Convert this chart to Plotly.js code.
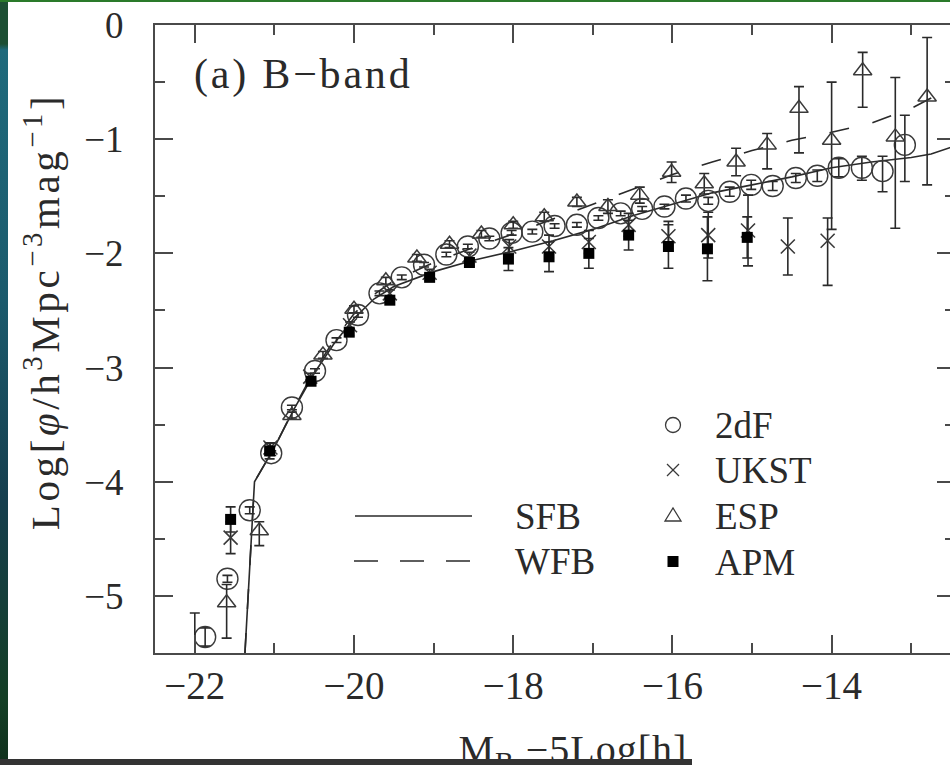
<!DOCTYPE html>
<html><head><meta charset="utf-8">
<script src="https://cdn.plot.ly/plotly-3.0.1.min.js"></script>
<style>
html,body{margin:0;padding:0;width:950px;height:765px;overflow:hidden;background:#fff;}
#chart{position:absolute;left:0;top:0;width:960px;height:765px;}
#lstrip{position:absolute;left:0;top:0;width:8px;height:765px;z-index:5;
 background:linear-gradient(to bottom,#1d4f33 0px,#1d4f33 44px,#1f6a7c 50px,#1b5a6c 300px,#163f4e 500px,#143f25 700px,#10301c 765px);}
#tline{position:absolute;left:0;top:0;width:950px;height:2px;background:#2a7a2a;z-index:5;}
#bbar{position:absolute;left:0;top:759px;width:692px;height:6px;background:#333;z-index:5;}
.annotation[data-index="0"] text{letter-spacing:2.8px;}
.annotation[data-index="7"] text{letter-spacing:3.6px;}
.annotation[data-index="8"] text{letter-spacing:1px;}
</style></head>
<body>
<div id="chart"></div><div id="lstrip"></div><div id="tline"></div><div id="bbar"></div>
<script>
// ---- data ----
const sfbX = [-21.37,-21.25,-21.0,-20.75,-20.5,-20.25,-20.0,-19.75,-19.5,-19.0,-18.5,-18.0,-17.5,-17.0,-16.5,-16.0,-15.5,-15.0,-14.5,-14.0,-13.5,-13.0,-12.75,-12.45];
const sfbY = [-5.5,-4.0,-3.70,-3.36,-3.05,-2.79,-2.57,-2.40,-2.29,-2.16,-2.06,-1.98,-1.89,-1.79,-1.67,-1.57,-1.47,-1.40,-1.33,-1.25,-1.20,-1.16,-1.13,-1.06];
const wfbX = [-21.37,-21.25,-21.0,-20.75,-20.5,-20.25,-20.0,-19.75,-19.5,-19.0,-18.5,-18.0,-17.5,-17.0,-16.5,-16.0,-15.5,-15.0,-14.5,-14.0,-13.5,-13.0,-12.75,-12.45];
const wfbY = [-5.5,-4.0,-3.70,-3.35,-3.03,-2.76,-2.53,-2.36,-2.24,-2.08,-1.95,-1.83,-1.70,-1.57,-1.44,-1.31,-1.20,-1.10,-1.01,-0.94,-0.86,-0.73,-0.64,-0.50];

const dfX = [-21.87,-21.59,-21.31,-21.04,-20.78,-20.49,-20.22,-19.95,-19.68,-19.40,-19.12,-18.84,-18.57,-18.30,-18.02,-17.76,-17.48,-17.20,-16.93,-16.65,-16.38,-16.10,-15.83,-15.55,-15.28,-15.01,-14.74,-14.45,-14.18,-13.91,-13.62,-13.36,-13.08];
const dfY = [-5.36,-4.85,-4.25,-3.75,-3.35,-3.03,-2.76,-2.54,-2.35,-2.21,-2.10,-2.01,-1.94,-1.87,-1.82,-1.81,-1.76,-1.75,-1.69,-1.65,-1.61,-1.59,-1.52,-1.54,-1.46,-1.40,-1.41,-1.34,-1.32,-1.25,-1.25,-1.28,-1.05];
const dfErrUp = [0.08,0.03,0.03,0.02,0.02,0.02,0.02,0.02,0.02,0.02,0.02,0.02,0.02,0.02,0.02,0.02,0.02,0.02,0.02,0.02,0.02,0.02,0.03,0.03,0.04,0.04,0.04,0.04,0.05,0.08,0.10,0.13,0.26];
const dfErrDn = [0.08,0.03,0.03,0.02,0.02,0.02,0.02,0.02,0.02,0.02,0.02,0.02,0.02,0.02,0.02,0.02,0.02,0.02,0.02,0.02,0.02,0.02,0.03,0.03,0.04,0.04,0.04,0.04,0.05,0.08,0.11,0.18,0.32];

const ukX = [-21.55,-21.05,-20.55,-20.05,-19.55,-19.05,-18.55,-18.05,-17.55,-17.05,-16.55,-16.05,-15.55,-15.05,-14.55,-14.05];
const ukY = [-4.49,-3.70,-3.08,-2.63,-2.35,-2.17,-2.02,-1.94,-1.94,-1.90,-1.75,-1.85,-1.84,-1.80,-1.94,-1.89];
const ukErrUp = [0.14,0.04,0.03,0.03,0.03,0.03,0.03,0.06,0.10,0.10,0.10,0.13,0.20,0.31,0.25,0.20];
const ukErrDn = [0.14,0.04,0.03,0.03,0.03,0.03,0.03,0.06,0.10,0.10,0.10,0.13,0.20,0.31,0.25,0.39];

const espX = [-22.0,-21.60,-21.19,-20.78,-20.39,-20.0,-19.60,-19.21,-18.80,-18.40,-18.0,-17.61,-17.20,-16.81,-16.41,-16.01,-15.60,-15.20,-14.81,-14.41,-14.0,-13.61,-13.20,-12.80];
const espY = [-5.75,-5.06,-4.43,-3.42,-2.89,-2.49,-2.24,-2.04,-1.92,-1.83,-1.75,-1.68,-1.55,-1.59,-1.49,-1.29,-1.39,-1.20,-1.05,-0.73,-1.01,-0.40,-0.98,-0.63];
const espErrUp = [0.60,0.16,0.08,0.03,0.03,0.03,0.03,0.03,0.03,0.03,0.03,0.04,0.04,0.06,0.07,0.09,0.09,0.12,0.10,0.19,0.51,0.16,0.52,0.52];
const espErrDn = [0.30,0.31,0.13,0.03,0.03,0.03,0.03,0.03,0.03,0.03,0.03,0.04,0.04,0.06,0.07,0.09,0.09,0.12,0.21,0.39,0.78,0.32,0.80,0.77];

const apmX = [-21.55,-21.06,-20.54,-20.06,-19.55,-19.05,-18.55,-18.06,-17.55,-17.05,-16.55,-16.05,-15.56,-15.06];
const apmY = [-4.33,-3.73,-3.12,-2.69,-2.41,-2.21,-2.08,-2.05,-2.03,-2.00,-1.84,-1.94,-1.96,-1.86];
const apmErr = [0.11,0.07,0.03,0.03,0.03,0.03,0.03,0.10,0.13,0.13,0.13,0.19,0.28,0.18];

const xTickVals = [-22,-20,-18,-16,-14];
const xTickText = ['\u221222','\u221220','\u221218','\u221216','\u221214'];
const yTickVals = [0,-1,-2,-3,-4,-5];
const yTickText = ['0','\u22121','\u22122','\u22123','\u22124','\u22125'];

const lineNames = ['SFB','WFB'];
const pointNames = ['2dF','UKST','ESP','APM'];

// ---- drawing ----
const FONT = 'Liberation Serif, Times New Roman, serif';
const INK = '#2a2a2a';
const MK = '#3a3a3a';
function eb(up, dn){ return {type:'data', symmetric:false, array:up, arrayminus:dn, color:INK, thickness:1.6, width:5}; }

const traces = [
 {x:sfbX, y:sfbY, mode:'lines', name:lineNames[0], line:{color:INK, width:1.6}, showlegend:false},
 {x:wfbX, y:wfbY, mode:'lines', name:lineNames[1], line:{color:INK, width:1.6, dash:'20px,24px'}, showlegend:false},
 {x:dfX, y:dfY, mode:'markers', name:pointNames[0], marker:{symbol:'circle-open', size:21, color:MK, line:{width:1.4, color:MK}}, error_y:eb(dfErrUp, dfErrDn), showlegend:false},
 {x:ukX, y:ukY, mode:'markers', name:pointNames[1], marker:{symbol:'x-thin-open', size:14, color:MK, line:{width:1.6, color:MK}}, error_y:eb(ukErrUp, ukErrDn), showlegend:false},
 {x:espX, y:espY, mode:'markers', name:pointNames[2], marker:{symbol:'triangle-up-open', size:16, color:MK, line:{width:1.5, color:MK}}, error_y:eb(espErrUp, espErrDn), showlegend:false},
 {x:apmX, y:apmY, mode:'markers', name:pointNames[3], marker:{symbol:'square', size:11, color:'#000', line:{width:0}}, error_y:eb(apmErr, apmErr), showlegend:false}
];

// pixel -> paper helpers (plot area 155..955 x 25..653)
const L=155, R=955, T=25, B=653;
const px = v => (v-L)/(R-L);
const py = v => (B-v)/(B-T);

const shapes = [
 {type:'line', xref:'paper', yref:'paper', x0:px(355), x1:px(472), y0:py(516), y1:py(516), line:{color:INK, width:1.6}},
 {type:'line', xref:'paper', yref:'paper', x0:px(354), x1:px(472), y0:py(561), y1:py(561), line:{color:INK, width:1.6, dash:'24px,22px'}},
 {type:'circle', xref:'paper', yref:'paper', x0:px(665.5), x1:px(680.5), y0:py(432.5), y1:py(417.5), line:{color:MK, width:1.3}},
 {type:'line', xref:'paper', yref:'paper', x0:px(667), x1:px(679), y0:py(464), y1:py(476), line:{color:MK, width:1.3}},
 {type:'line', xref:'paper', yref:'paper', x0:px(667), x1:px(679), y0:py(476), y1:py(464), line:{color:MK, width:1.3}},
 {type:'path', xref:'paper', yref:'paper', path:`M ${px(665)} ${py(521)} L ${px(681)} ${py(521)} L ${px(673)} ${py(508)} Z`, line:{color:MK, width:1.3}},
 {type:'rect', xref:'paper', yref:'paper', x0:px(667.5), x1:px(678.5), y0:py(567), y1:py(556), fillcolor:'#000', line:{width:0}}
];

const tf = {family:FONT, size:37, color:INK};
const annotations = [
 {xref:'paper', yref:'paper', x:px(206), y:py(75), xanchor:'left', yanchor:'middle', text:'(a) B\u2212band', showarrow:false, font:{family:FONT, size:42, color:INK}},
 {xref:'paper', yref:'paper', x:px(513), y:py(516), xanchor:'left', yanchor:'middle', text:lineNames[0], showarrow:false, font:tf},
 {xref:'paper', yref:'paper', x:px(513), y:py(561), xanchor:'left', yanchor:'middle', text:lineNames[1], showarrow:false, font:tf},
 {xref:'paper', yref:'paper', x:px(713), y:py(425), xanchor:'left', yanchor:'middle', text:pointNames[0], showarrow:false, font:tf},
 {xref:'paper', yref:'paper', x:px(713), y:py(470), xanchor:'left', yanchor:'middle', text:pointNames[1], showarrow:false, font:tf},
 {xref:'paper', yref:'paper', x:px(713), y:py(516), xanchor:'left', yanchor:'middle', text:pointNames[2], showarrow:false, font:tf},
 {xref:'paper', yref:'paper', x:px(713), y:py(562), xanchor:'left', yanchor:'middle', text:pointNames[3], showarrow:false, font:tf},
 {xref:'paper', yref:'paper', x:px(42), y:py(312), xanchor:'center', yanchor:'middle', textangle:-90, text:'Log[<i>\u03c6</i>/h<sup>3</sup>Mpc<sup>\u22123</sup>mag<sup>\u22121</sup>]', showarrow:false, font:{family:FONT, size:41, color:INK}},
 {xref:'paper', yref:'paper', x:px(573), y:py(725), xanchor:'center', yanchor:'top', text:'M<sub>B</sub> \u22125Log[h]', showarrow:false, font:{family:FONT, size:40, color:INK}}
];

const axisCommon = {showline:true, linecolor:'#4a4a4a', linewidth:2, mirror:'ticks', ticks:'inside', ticklen:18, tickwidth:2, tickcolor:'#4a4a4a', showgrid:false, zeroline:false, fixedrange:true};

const layout = {
 width:960, height:765,
 margin:{l:L, r:960-R, t:T, b:765-B},
 paper_bgcolor:'#fff', plot_bgcolor:'#fff',
 font:{family:FONT, color:INK},
 showlegend:false,
 xaxis:Object.assign({}, axisCommon, {range:[-22.5,-12.45], tickmode:'array', tickvals:xTickVals, ticktext:xTickText, tickfont:{family:FONT, size:39, color:INK}, ticklabelstandoff:-3,
   minor:{dtick:1, tick0:-23, ticks:'inside', ticklen:10, tickwidth:2, tickcolor:'#4a4a4a'}}),
 yaxis:Object.assign({}, axisCommon, {range:[-5.5,0], tickmode:'array', tickvals:yTickVals, ticktext:yTickText, tickfont:{family:FONT, size:37, color:INK}, ticklabelstandoff:22,
   minor:{dtick:0.5, tick0:0, ticks:'inside', ticklen:10, tickwidth:2, tickcolor:'#4a4a4a'}}),
 shapes:shapes,
 annotations:annotations
};

Plotly.newPlot('chart', traces, layout, {displayModeBar:false, staticPlot:true});
</script>
</body></html>
